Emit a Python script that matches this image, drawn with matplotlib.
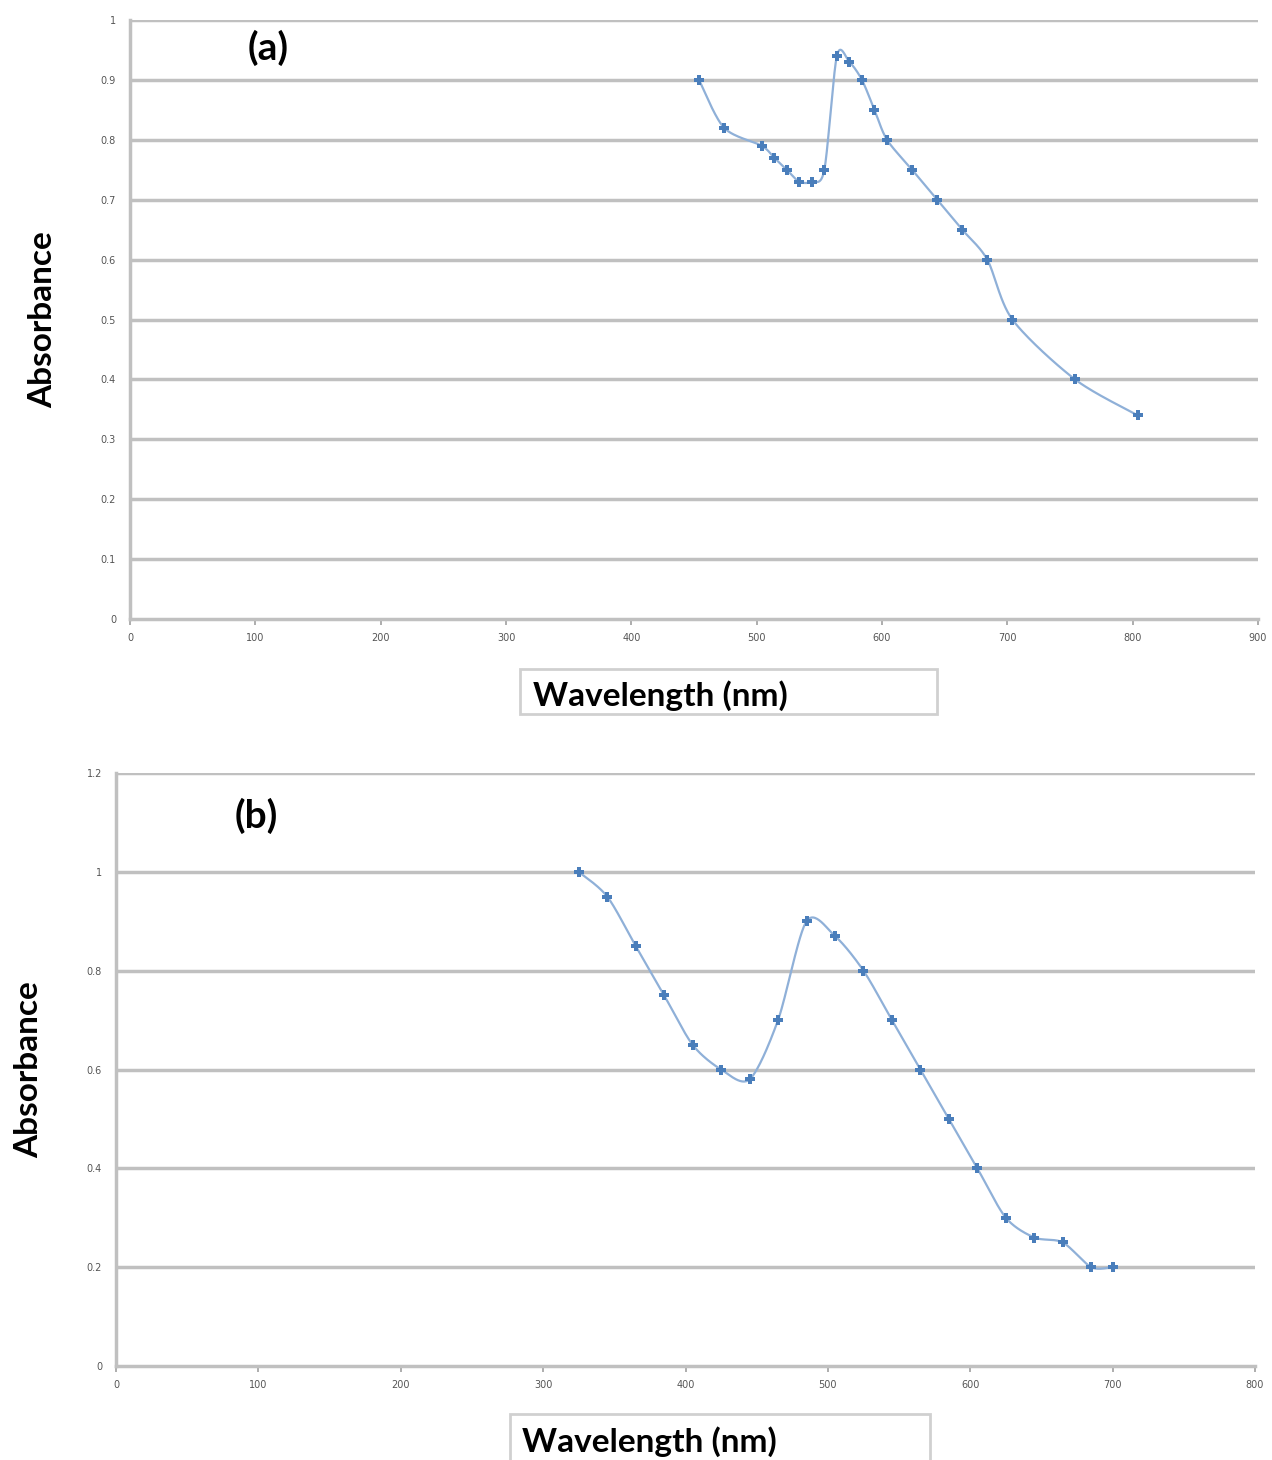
import numpy as np
import matplotlib
matplotlib.use("Agg")
import matplotlib.pyplot as plt
from matplotlib.patches import Rectangle

# panel (a)
wl_a = [454, 474, 504, 514, 524, 534, 544, 554, 564, 574, 584, 594, 604,
        624, 644, 664, 684, 704, 754, 804]
abs_a = [0.90, 0.82, 0.79, 0.77, 0.75, 0.73, 0.73, 0.75, 0.94, 0.93, 0.90,
         0.85, 0.80, 0.75, 0.70, 0.65, 0.60, 0.50, 0.40, 0.34]

# panel (b)
wl_b = [325, 345, 365, 385, 405, 425, 445, 465, 485, 505, 525, 545, 565,
        585, 605, 625, 645, 665, 685, 700]
abs_b = [1.00, 0.95, 0.85, 0.75, 0.65, 0.60, 0.58, 0.70, 0.90, 0.87, 0.80,
         0.70, 0.60, 0.50, 0.40, 0.30, 0.26, 0.25, 0.20, 0.20]

xticks_a = np.arange(0, 901, 100)
yticks_a = np.round(np.arange(0, 1.01, 0.1), 1)
xticks_b = np.arange(0, 801, 100)
yticks_b = np.round(np.arange(0, 1.21, 0.2), 1)

FONT = "Lato"
GRID = "#c0c0c0"
LINE = "#8fb0d8"
MARK = "#4a7ebb"


def smooth(x, y, n=30, k=1 / 7):
    # Excel-style smoothed line (bezier through the points)
    x = np.asarray(x, float)
    y = np.asarray(y, float)
    px = np.concatenate([[x[0]], x, [x[-1]]])
    py = np.concatenate([[y[0]], y, [y[-1]]])
    xs, ys = [], []
    t = np.linspace(0, 1, n)
    for i in range(1, len(px) - 2):
        p0, p1, p2, p3 = (np.array([px[j], py[j]]) for j in range(i - 1, i + 3))
        c1 = p1 + (p2 - p0) * k
        c2 = p2 - (p3 - p1) * k
        for tt in t:
            b = ((1 - tt) ** 3 * p1 + 3 * (1 - tt) ** 2 * tt * c1
                 + 3 * (1 - tt) * tt ** 2 * c2 + tt ** 3 * p2)
            xs.append(b[0])
            ys.append(b[1])
    return xs, ys


def fmt(v):
    return "0" if v == 0 else ("%g" % v)


def draw(ax, x, y, xticks, yticks):
    for v in yticks[1:]:
        ax.axhline(v, color=GRID, linewidth=2.5, zorder=1)
    sx, sy = smooth(x, y)
    ax.plot(sx, sy, color=LINE, linewidth=1.6, zorder=2)
    ax.plot(x, y, linestyle="none", marker="P", markersize=7.5,
            color=MARK, markeredgewidth=0, zorder=3)
    ax.set_xlim(xticks[0], xticks[-1])
    ax.set_ylim(yticks[0], yticks[-1])
    ax.set_xticks(xticks)
    ax.set_xticklabels([fmt(v) for v in xticks])
    ax.set_yticks(yticks)
    ax.set_yticklabels([fmt(v) for v in yticks])
    for s in ["top", "right"]:
        ax.spines[s].set_visible(False)
    for s in ["left", "bottom"]:
        ax.spines[s].set_color(GRID)
        ax.spines[s].set_linewidth(2.5)
    ax.tick_params(axis="x", length=4, width=1.2, color="#a0a0a0",
                   labelsize=7, labelcolor="#555555", pad=6)
    ax.tick_params(axis="y", length=0, labelsize=7, labelcolor="#555555", pad=10)


W, H = 1272, 1460
fig = plt.figure(figsize=(W / 100, H / 100), dpi=100)


def axes_px(l, t, r, b):
    return fig.add_axes([l / W, 1 - b / H, (r - l) / W, (b - t) / H])


ax1 = axes_px(130, 20, 1258, 619)
draw(ax1, wl_a, abs_a, xticks_a, yticks_a)
ax2 = axes_px(116, 773, 1255, 1366)
draw(ax2, wl_b, abs_b, xticks_b, yticks_b)


def fig_text(x, y, s, **kw):
    fig.text(x / W, 1 - y / H, s, family=FONT, fontweight="bold", **kw)


def box(l, t, r, b):
    fig.add_artist(Rectangle((l / W, 1 - b / H), (r - l) / W, (b - t) / H,
                             transform=fig.transFigure, facecolor="white",
                             edgecolor="#d0d0d0", linewidth=2))


box(520, 669, 937, 714)
fig_text(533, 696, "Wavelength (nm)", fontsize=24, va="center", ha="left")
box(510, 1414, 930, 1475)
fig_text(522, 1442, "Wavelength (nm)", fontsize=24, va="center", ha="left")

fig_text(43, 320, "Absorbance", fontsize=24, rotation=90, va="center", ha="center")
fig_text(29, 1070, "Absorbance", fontsize=24, rotation=90, va="center", ha="center")

fig_text(268, 48, "(a)", fontsize=28, va="center", ha="center")
fig_text(256, 816, "(b)", fontsize=28, va="center", ha="center")

fig.savefig("out.png", dpi=100, facecolor="white")
